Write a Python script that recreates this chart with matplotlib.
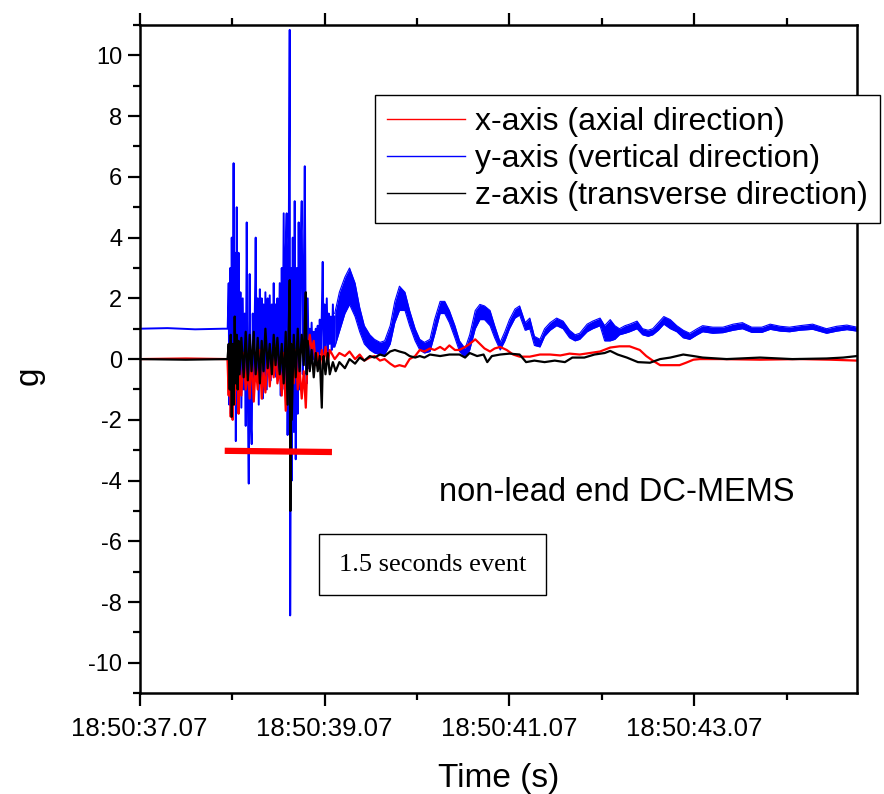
import matplotlib.pyplot as plt
from matplotlib.ticker import MultipleLocator, FixedLocator
import numpy as np

plt.rcParams['font.family'] = ['Liberation Sans', 'DejaVu Sans']
plt.rcParams['axes.unicode_minus'] = False

# time in seconds after 18:50:37.07, acceleration in g
# --- y-axis (vertical), spiky part of the event ---
blue_t = [0.0, 0.3, 0.6, 0.9, 0.952, 0.963, 0.969, 0.98, 0.986, 0.996, 1.006, 1.016, 1.024, 1.033, 1.04,
          1.05, 1.06, 1.07, 1.08, 1.09, 1.10, 1.115, 1.125, 1.136, 1.147, 1.158, 1.169, 1.18, 1.19,
          1.20, 1.212, 1.223, 1.234, 1.25, 1.255, 1.266, 1.277, 1.288, 1.30, 1.31, 1.32, 1.33, 1.34,
          1.35, 1.36, 1.375, 1.385, 1.396, 1.407, 1.418, 1.43, 1.44, 1.45, 1.46, 1.47, 1.48, 1.49,
          1.50, 1.515, 1.526, 1.537, 1.547, 1.558, 1.569, 1.58, 1.59, 1.60, 1.61, 1.623, 1.628, 1.64,
          1.645, 1.656, 1.667, 1.677, 1.688, 1.70, 1.71, 1.72, 1.73, 1.74, 1.753, 1.764, 1.775, 1.786,
          1.797, 1.807, 1.818, 1.83, 1.84, 1.85, 1.86, 1.872, 1.883, 1.894, 1.905, 1.916, 1.926, 1.937,
          1.948, 1.96, 1.97, 1.98, 1.99, 2.00, 2.01, 2.024, 2.035, 2.045, 2.056, 2.067, 2.078, 2.09,
          2.10, 2.11]
blue_g = [1.0, 1.02, 0.98, 1.0, 1.0, 2.5, -1.5, 3.0, -1.8, 4.0, -0.5, 6.45, -1.0, 3.5, -2.7,
          5.0, -1.5, 3.5, -0.8, 2.2, -1.6, 2.0, -1.0, 1.5, -2.2, 4.5, -1.0, -4.1, 2.8,
          -2.0, -2.8, 1.5, -0.8, 2.5, 4.0, -0.5, 2.0, -1.5, 2.3, -0.6, 2.0, -1.3, 1.8,
          -0.8, 2.2, -1.0, 2.0, -0.5, 2.1, -0.7, 1.8, -0.3, 2.5, 0.0, 1.8, -0.6, 2.0,
          -0.5, 2.5, -1.2, 3.0, -0.8, 4.8, -1.0, 3.5, 4.8, -2.5, 2.0, 10.84, -8.44, 3.0,
          -4.0, 4.0, -2.4, 5.2, -3.3, 3.0, -1.8, 4.5, -1.0, 3.5, 5.2, -0.5, 2.5, 6.35,
          0.0, -0.8, 2.0, -0.3, 1.0, -0.1, 1.2, 0.0, 0.9, -0.2, 1.0, 0.1, 1.1, -0.1,
          1.3, 0.2, 1.5, 3.2, 0.1, 1.8, 0.3, 2.0, 0.2, 1.5, 0.5, 1.4, 0.3, 1.8,
          0.4, 1.4]

# --- y-axis, noisy band after the event (upper / lower edge) ---
band_t = [2.11, 2.16, 2.22, 2.27, 2.33, 2.38, 2.43, 2.49, 2.54, 2.60, 2.65, 2.71, 2.76, 2.81, 2.87,
          2.92, 2.98, 3.03, 3.08, 3.14, 3.19, 3.25, 3.30, 3.35, 3.41, 3.46, 3.52, 3.57, 3.63, 3.68,
          3.73, 3.79, 3.84, 3.90, 3.95, 4.00, 4.06, 4.11, 4.17, 4.22, 4.27, 4.33, 4.38, 4.44, 4.51,
          4.58, 4.65, 4.71, 4.76, 4.84, 4.90, 4.98, 5.03, 5.09, 5.14, 5.19, 5.25, 5.30, 5.38, 5.44,
          5.50, 5.55, 5.61, 5.67, 5.74, 5.81, 5.88, 5.95, 6.03, 6.09, 6.20, 6.31, 6.42, 6.52, 6.62,
          6.73, 6.82, 6.93, 7.03, 7.14, 7.28, 7.43, 7.54, 7.65, 7.76]
band_hi = [1.5, 2.2, 2.7, 3.0, 2.5, 1.7, 1.1, 0.8, 0.65, 0.55, 0.6, 1.1, 1.9, 2.4, 2.2,
           1.6, 1.0, 0.65, 0.55, 0.65, 1.3, 1.9, 1.9, 1.6, 1.1, 0.6, 0.35, 0.8, 1.6, 1.8,
           1.75, 1.6, 1.1, 0.55, 0.9, 1.3, 1.65, 1.75, 1.2, 1.35, 0.75, 0.65, 1.0, 1.2, 1.35,
           1.25, 0.95, 0.8, 0.85, 1.15, 1.25, 1.35, 1.1, 1.3, 1.1, 1.0, 1.1, 1.15, 1.25, 1.0,
           0.95, 1.0, 1.2, 1.4, 1.3, 1.1, 0.95, 0.85, 1.0, 1.1, 1.05, 1.05, 1.15, 1.2, 1.05,
           1.05, 1.15, 1.08, 1.05, 1.1, 1.15, 1.0, 1.08, 1.12, 1.05]
band_lo = [0.4, 0.9, 1.5, 1.8, 1.4, 0.9, 0.5, 0.3, 0.2, 0.15, 0.15, 0.5, 1.2, 1.6, 1.6,
           1.1, 0.6, 0.3, 0.2, 0.25, 0.8, 1.5, 1.5, 1.2, 0.7, 0.25, 0.05, 0.3, 1.0, 1.3,
           1.3, 1.1, 0.7, 0.3, 0.6, 1.0, 1.35, 1.45, 0.95, 1.0, 0.45, 0.4, 0.75, 0.95, 1.1,
           1.0, 0.7, 0.6, 0.65, 0.9, 1.0, 1.1, 0.6, 0.6, 0.65, 0.8, 0.85, 0.9, 1.0, 0.8,
           0.75, 0.8, 0.95, 1.15, 1.0, 0.9, 0.7, 0.65, 0.8, 0.9, 0.85, 0.87, 0.95, 1.0, 0.88,
           0.88, 0.98, 0.92, 0.9, 0.95, 0.98, 0.85, 0.92, 0.97, 0.92]

# --- x-axis (axial) ---
red_t = [0.0, 0.5, 0.95, 0.963, 0.974, 0.985, 0.996, 1.006, 1.016, 1.028, 1.04, 1.05, 1.06, 1.07,
         1.08, 1.10, 1.125, 1.147, 1.17, 1.19, 1.21, 1.234, 1.255, 1.277, 1.30, 1.32, 1.34, 1.36,
         1.385, 1.407, 1.43, 1.45, 1.47, 1.49, 1.515, 1.537, 1.558, 1.58, 1.60, 1.623, 1.645, 1.667,
         1.688, 1.71, 1.73, 1.753, 1.775, 1.797, 1.818, 1.84, 1.86, 1.883, 1.905, 1.926, 1.948,
         1.97, 1.99, 2.01, 2.035, 2.056, 2.11, 2.16, 2.22, 2.27, 2.33, 2.38, 2.43, 2.49, 2.54,
         2.60, 2.65, 2.71, 2.76, 2.81, 2.87, 2.92, 2.98, 3.03, 3.08, 3.14, 3.19, 3.25, 3.30, 3.35,
         3.41, 3.46, 3.52, 3.57, 3.63, 3.68, 3.73, 3.79, 3.84, 3.90, 3.97, 4.04, 4.11, 4.22, 4.33,
         4.44, 4.55, 4.65, 4.76, 4.87, 4.98, 5.09, 5.19, 5.30, 5.41, 5.48, 5.55, 5.63, 5.74, 5.84,
         5.91, 5.99, 6.06, 6.28, 6.71, 7.14, 7.47, 7.76]
red_g = [0.0, 0.02, 0.0, -1.2, 0.3, -1.9, -0.5, -2.0, -0.3, -1.5, 0.2, -1.0, -0.2, -1.8,
         -0.4, -1.2, 0.2, -1.0, -0.3, -1.3, 0.2, -1.4, -0.2, -1.0, 0.3, -1.3, -0.4, -1.1,
         0.2, -0.9, 0.1, -0.6, 0.4, -0.8, -0.3, -1.2, 0.2, -1.7, -0.5, -1.0, 0.5, -0.8,
         0.3, -1.0, -0.3, -1.3, -0.4, -1.6, 0.2, 0.8, 0.3, 0.6, -0.2, 0.2, -0.3,
         0.3, -0.2, 0.4, -0.1, 0.3, 0.0, 0.2, 0.1, 0.25, 0.0, 0.15, -0.05, 0.05, 0.1,
         -0.05, 0.0, -0.15, -0.25, -0.2, -0.25, 0.0, 0.1, 0.3, 0.25, 0.35, 0.3, 0.4, 0.3, 0.45,
         0.3, 0.3, 0.4, 0.5, 0.65, 0.5, 0.35, 0.25, 0.35, 0.4, 0.3, 0.15, 0.08, 0.08, 0.15,
         0.15, 0.12, 0.18, 0.15, 0.2, 0.25, 0.38, 0.42, 0.42, 0.3, 0.1, -0.05, -0.2, -0.2, -0.2,
         -0.12, -0.02, 0.0, 0.0, -0.02, 0.0, -0.02, -0.05]

# --- z-axis (transverse) ---
black_t = [0.0, 0.5, 0.95, 0.963, 0.974, 0.985, 0.996, 1.006, 1.016, 1.028, 1.04, 1.05, 1.06, 1.07,
           1.08, 1.10, 1.125, 1.147, 1.17, 1.19, 1.21, 1.234, 1.255, 1.277, 1.30, 1.32, 1.34, 1.36,
           1.385, 1.407, 1.43, 1.45, 1.47, 1.49, 1.515, 1.537, 1.558, 1.58, 1.60, 1.61, 1.623, 1.63,
           1.64, 1.645, 1.667, 1.688, 1.71, 1.73, 1.753, 1.775, 1.786, 1.797, 1.807, 1.818, 1.84,
           1.86, 1.883, 1.905, 1.926, 1.948, 1.97, 1.98, 1.99, 2.01, 2.035, 2.056, 2.09, 2.12, 2.16,
           2.22, 2.27, 2.33, 2.38, 2.43, 2.49, 2.54, 2.60, 2.65, 2.71, 2.76, 2.81, 2.87, 2.92, 2.98,
           3.03, 3.08, 3.14, 3.25, 3.35, 3.46, 3.52, 3.57, 3.65, 3.72, 3.76, 3.81, 3.90, 4.00, 4.11,
           4.18, 4.27, 4.38, 4.49, 4.60, 4.68, 4.81, 4.92, 5.03, 5.09, 5.17, 5.27, 5.39, 5.52, 5.63,
           5.74, 5.88, 5.99, 6.09, 6.35, 6.71, 7.06, 7.43, 7.61, 7.76]
black_g = [0.0, -0.02, 0.0, 0.5, -1.0, 0.8, -1.9, 0.5, -1.5, 1.4, -0.8, 0.8, -1.0, 0.6,
           -0.5, 0.7, -0.6, 0.9, -0.7, 0.8, -0.4, 0.9, -0.5, 0.7, -0.8, 0.6, -0.4, 1.0,
           -0.3, 0.5, -0.5, 0.8, -0.2, 0.7, -0.5, 0.5, -0.8, 0.9, -1.5, 0.6, 2.6, -5.0,
           0.5, -2.0, 0.8, -0.6, 1.0, -0.4, 0.8, -0.2, 1.2, 2.2, -0.5, 0.6, -0.4,
           0.3, -0.6, 0.2, -0.4, 0.1, -1.6, -0.2, 0.1, -0.5, 0.2, -0.5, -0.1, -0.4, -0.1,
           -0.3, 0.0, -0.15, 0.05, -0.05, 0.1, 0.05, 0.15, 0.1, 0.25, 0.3, 0.25, 0.2, 0.1, 0.05,
           0.1, 0.05, 0.15, 0.1, 0.15, 0.15, 0.05, 0.2, 0.1, 0.15, -0.1, 0.1, 0.15, 0.18, 0.15,
           -0.1, -0.05, -0.1, -0.05, -0.1, 0.05, 0.05, 0.15, 0.2, 0.27, 0.15, 0.05, -0.1, -0.12, 0.0,
           0.05, 0.15, 0.1, 0.05, 0.0, 0.05, 0.0, 0.02, 0.05, 0.1]

# red bar marking the event duration
bar_t = [0.92, 2.08]
bar_g = [-3.02, -3.06]

tick_pos = [0, 2, 4, 6]
tick_lab = ['18:50:37.07', '18:50:39.07', '18:50:41.07', '18:50:43.07']

fig = plt.figure(figsize=(8.84, 7.94), dpi=100)
ax = fig.add_axes([0.158, 0.127, 0.8115, 0.8415])

ax.plot(blue_t, blue_g, color='#0000ff', lw=1.4, label='y-axis (vertical direction)')
ax.fill_between(band_t, band_lo, band_hi, color='#0000ff', lw=0)
ax.plot(band_t, band_hi, color='#0000ff', lw=0.8)
ax.plot(band_t, band_lo, color='#0000ff', lw=0.8)
ax.plot(red_t, red_g, color='#ff0000', lw=1.6, label='x-axis (axial direction)')
ax.plot(black_t, black_g, color='black', lw=1.6, label='z-axis (transverse direction)')
ax.plot(bar_t, bar_g, color='#ff0000', lw=4.5, solid_capstyle='butt')

ax.set_xlim(0, 7.76)
ax.set_ylim(-11, 11)
ax.xaxis.set_major_locator(FixedLocator(tick_pos))
ax.set_xticklabels(tick_lab)
ax.xaxis.set_minor_locator(MultipleLocator(1))
ax.yaxis.set_major_locator(MultipleLocator(2))
ax.yaxis.set_minor_locator(MultipleLocator(1))
ax.tick_params(which='both', direction='out', top=True, right=False, width=1.6)
ax.tick_params(which='major', length=9)
ax.tick_params(which='minor', length=5)
ax.tick_params(axis='x', labelsize=18.5, pad=8)
ax.tick_params(axis='y', labelsize=17)
for s in ax.spines.values():
    s.set_linewidth(1.8)

ax.set_xlabel('Time (s)', fontsize=24, labelpad=16)
ax.set_ylabel('g', fontsize=24)
ax.yaxis.set_label_coords(-0.133, 0.475)

h, l = ax.get_legend_handles_labels()
order = [1, 0, 2]
leg = ax.legend([h[i] for i in order], [l[i] for i in order], loc='upper left',
                bbox_to_anchor=(375 / 884, 1 - 95 / 794), bbox_transform=fig.transFigure,
                frameon=True, fancybox=False, edgecolor='black', framealpha=1,
                borderaxespad=0, handlelength=2.45, handletextpad=0.3, labelspacing=0.22,
                borderpad=0.38, prop={'family': ['Liberation Sans', 'DejaVu Sans'], 'size': 23})
leg.get_frame().set_linewidth(1.0)
for line in leg.get_lines():
    line.set_linewidth(1.0)

ax.text(5.16, -4.4, 'non-lead end DC-MEMS', fontsize=23.5, ha='center', va='center')
ax.text(3.17, -6.77, '1.5 seconds event', fontsize=19, ha='center', va='center',
        family=['Liberation Serif', 'DejaVu Serif'],
        bbox=dict(boxstyle='square,pad=0.75', fc='white', ec='black', lw=1.0))

fig.savefig('out.png', dpi=100)
